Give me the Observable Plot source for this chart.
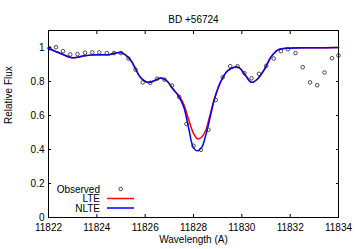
<!DOCTYPE html>
<html>
<head>
<meta charset="utf-8">
<script src="https://cdn.jsdelivr.net/npm/d3@7"></script>
<script src="https://cdn.jsdelivr.net/npm/@observablehq/plot@0.6"></script>
<style>
  body { margin: 0; background: #fff; }
  svg { font-family: "Liberation Sans", Arial, sans-serif; }
</style>
</head>
<body>
<div id="chart"></div>
<script>
const title = "BD +56724";
const xLabel = "Wavelength (A)";
const yLabel = "Relative Flux";
const xTicks = [11822, 11824, 11826, 11828, 11830, 11832, 11834];
const yTicks = [0, 0.2, 0.4, 0.6, 0.8, 1];

const obsWl = [11822.04, 11822.31, 11822.60, 11822.90, 11823.20, 11823.51, 11823.81, 11824.10, 11824.41, 11824.71,
  11825.00, 11825.31, 11825.60, 11825.90, 11826.21, 11826.50, 11826.80, 11827.11, 11827.41, 11827.71,
  11828.00, 11828.31, 11828.62, 11828.92, 11829.21, 11829.52, 11829.82, 11830.11, 11830.40, 11830.71,
  11831.01, 11831.32, 11831.62, 11831.91, 11832.22, 11832.52, 11832.82, 11833.12, 11833.42, 11833.73, 11834.00];
const obsFlux = [0.996, 1.002, 0.978, 0.959, 0.961, 0.969, 0.971, 0.971, 0.967, 0.967,
  0.967, 0.935, 0.870, 0.795, 0.792, 0.817, 0.811, 0.776, 0.709, 0.550,
  0.422, 0.398, 0.516, 0.691, 0.825, 0.890, 0.890, 0.849, 0.819, 0.845,
  0.892, 0.935, 0.978, 0.990, 0.967, 0.884, 0.795, 0.778, 0.853, 0.937, 0.953];

const modelWl = [11822.0, 11822.5, 11823.0, 11823.5, 11824.0, 11824.5, 11825.0, 11825.4, 11825.6, 11825.8,
  11826.1, 11826.35, 11826.65, 11826.9, 11827.15, 11827.4, 11827.6, 11827.8, 11828.0, 11828.18,
  11828.35, 11828.5, 11828.65, 11828.85, 11829.1, 11829.4, 11829.7, 11829.9, 11830.15, 11830.4,
  11830.65, 11830.95, 11831.2, 11831.5, 11832.0, 11833.0, 11834.0];
const nlteFlux = [0.994, 0.965, 0.940, 0.952, 0.957, 0.958, 0.970, 0.925, 0.875, 0.825,
  0.795, 0.803, 0.821, 0.803, 0.756, 0.710, 0.648, 0.525, 0.410, 0.392,
  0.415, 0.480, 0.565, 0.687, 0.790, 0.862, 0.884, 0.880, 0.836, 0.795,
  0.815, 0.875, 0.943, 0.986, 0.996, 0.998, 1.000];
const lteFlux = [0.994, 0.965, 0.940, 0.952, 0.957, 0.958, 0.970, 0.925, 0.875, 0.825,
  0.795, 0.803, 0.821, 0.803, 0.756, 0.715, 0.665, 0.575, 0.495, 0.462,
  0.475, 0.510, 0.585, 0.692, 0.792, 0.862, 0.884, 0.880, 0.836, 0.795,
  0.815, 0.875, 0.943, 0.986, 0.996, 0.998, 1.000];

const legendItems = ["Observed", "LTE", "NLTE"];
const legendColors = [null, "#ff0000", "#0000ff"];

const obs = obsWl.map((x, i) => ({x, y: obsFlux[i]}));
const lte = modelWl.map((x, i) => ({x, y: lteFlux[i]}));
const nlte = modelWl.map((x, i) => ({x, y: nlteFlux[i]}));

const fmtX = d3.format("d");
const fmtY = d3.format("~g");

const chart = Plot.plot({
  width: 356,
  height: 249,
  marginLeft: 48,
  marginRight: 18,
  marginTop: 30,
  marginBottom: 32,
  style: {fontFamily: "Liberation Sans, Arial, sans-serif", fontSize: "10px", color: "#000", background: "#fff"},
  x: {domain: [11822, 11834]},
  y: {domain: [0, 1.1]},
  marks: [
    Plot.axisX({ticks: xTicks, tickSize: 0, tickPadding: 6, tickFormat: fmtX, label: null, fontSize: 10}),
    Plot.axisX({anchor: "bottom", ticks: xTicks, tickSize: -3, tickFormat: () => "", label: null}),
    Plot.axisX({anchor: "top", ticks: xTicks, tickSize: -3, tickFormat: () => "", label: null}),
    Plot.axisY({ticks: yTicks, tickSize: 0, tickPadding: 4, tickFormat: fmtY, label: null, fontSize: 10}),
    Plot.axisY({anchor: "left", ticks: yTicks, tickSize: -3, tickFormat: () => "", label: null}),
    Plot.axisY({anchor: "right", ticks: yTicks, tickSize: -3, tickFormat: () => "", label: null}),
    Plot.frame({stroke: "#000", strokeWidth: 1}),
    Plot.line(lte, {x: "x", y: "y", stroke: "#ff0000", strokeWidth: 1.5, curve: "catmull-rom"}),
    Plot.line(nlte, {x: "x", y: "y", stroke: "#0000ff", strokeWidth: 1.5, curve: "catmull-rom"}),
    Plot.dot(obs, {x: "x", y: "y", r: 1.8, stroke: "#222", strokeWidth: 0.8, fill: "none"}),
    Plot.text([title], {frameAnchor: "top", dy: -15, fontSize: 10}),
    Plot.text([xLabel], {frameAnchor: "bottom", dy: 25, fontSize: 10}),
    Plot.text([yLabel], {frameAnchor: "left", dx: -40, rotate: -90, fontSize: 10})
  ]
});

// legend inside plot, bottom-left
const svg = d3.select(chart);
const lg = svg.append("g").attr("font-size", 10).attr("font-family", "Liberation Sans, Arial, sans-serif");
const rowsY = [189, 198.5, 208];
legendItems.forEach((name, i) => {
  lg.append("text").attr("x", 100).attr("y", rowsY[i]).attr("dy", "0.35em")
    .attr("text-anchor", "end").attr("fill", "#000").text(name);
  if (legendColors[i]) {
    lg.append("line").attr("x1", 107).attr("x2", 134).attr("y1", rowsY[i]).attr("y2", rowsY[i])
      .attr("stroke", legendColors[i]).attr("stroke-width", 1.5);
  } else {
    lg.append("circle").attr("cx", 120.7).attr("cy", rowsY[i]).attr("r", 1.8)
      .attr("fill", "none").attr("stroke", "#222").attr("stroke-width", 0.8);
  }
});

document.getElementById("chart").appendChild(chart);
</script>
</body>
</html>
